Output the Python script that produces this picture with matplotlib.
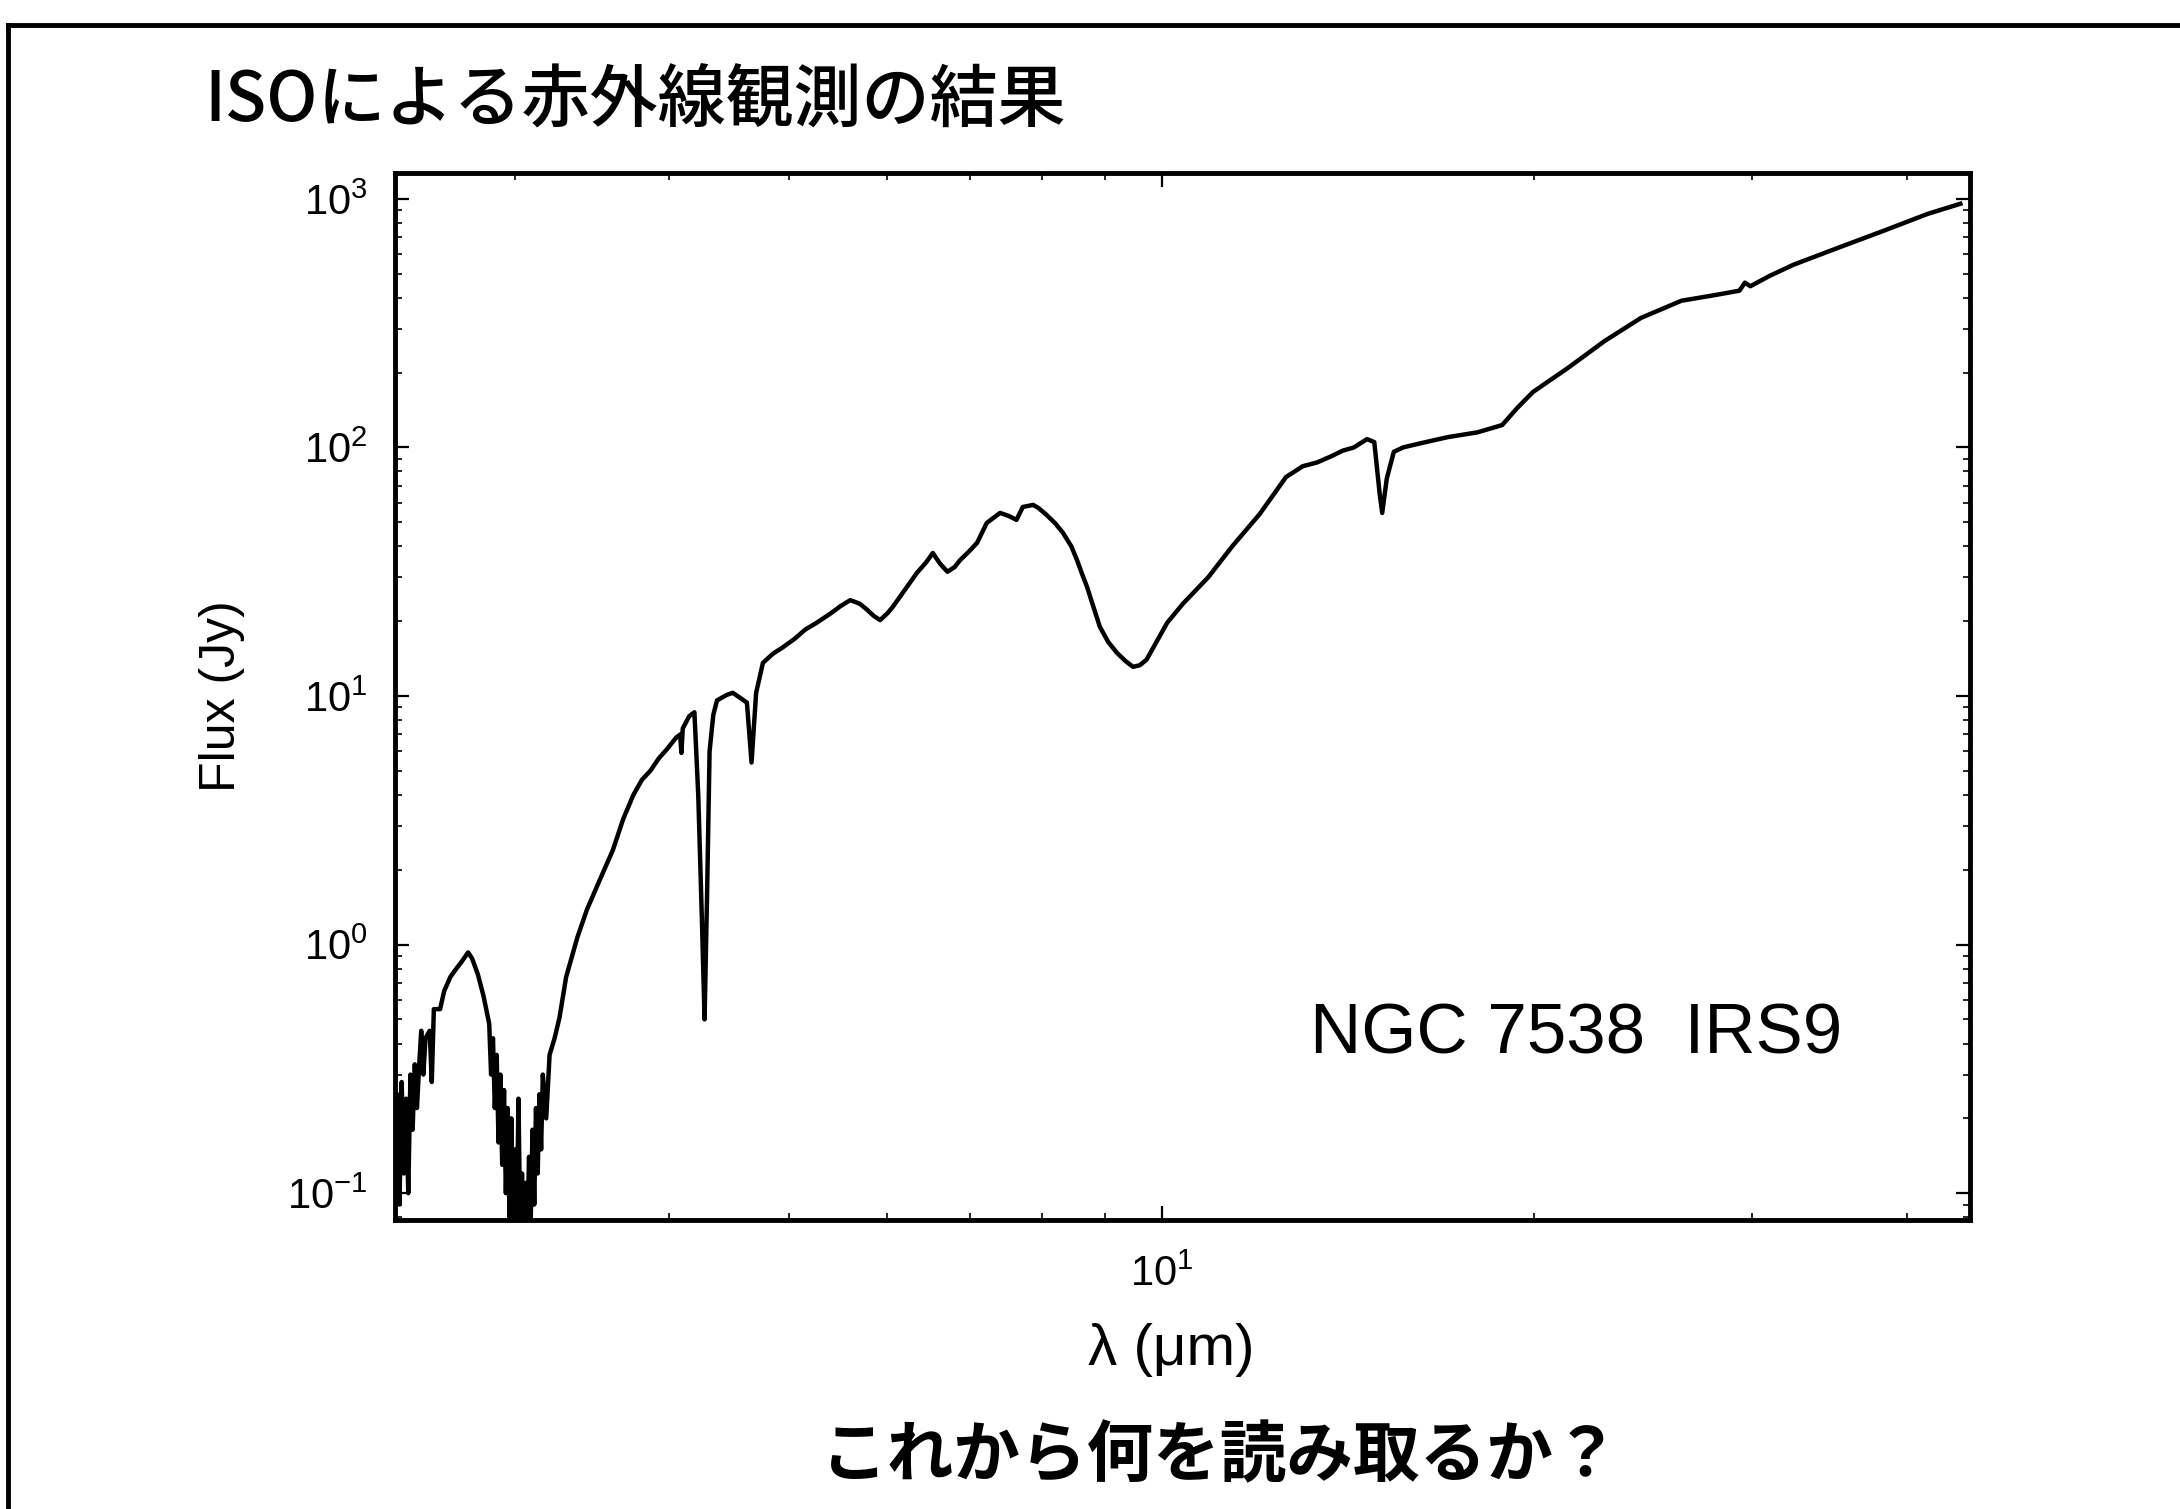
import matplotlib
matplotlib.use("Agg")
import matplotlib.pyplot as plt
from matplotlib.lines import Line2D
from matplotlib.ticker import LogLocator, LogFormatterSciNotation, NullFormatter

plt.rcParams['font.family'] = ['Liberation Sans', 'Noto Sans CJK JP']
plt.rcParams['mathtext.fontset'] = 'custom'
plt.rcParams['mathtext.rm'] = 'Liberation Sans'
plt.rcParams['mathtext.it'] = 'Liberation Sans:italic'
plt.rcParams['mathtext.bf'] = 'Liberation Sans:bold'
plt.rcParams['axes.unicode_minus'] = False

# ISO SWS spectrum of NGC 7538 IRS9: wavelength (um) and flux density (Jy)
wavelength = [
    2.40, 2.41, 2.42, 2.43, 2.44, 2.45, 2.46, 2.47, 2.48, 2.49,
    2.50, 2.51, 2.52, 2.53, 2.54, 2.56, 2.57, 2.58, 2.61, 2.63,
    2.66, 2.69, 2.72, 2.75, 2.77, 2.80, 2.83, 2.86, 2.87, 2.88,
    2.89, 2.90, 2.91, 2.92, 2.93, 2.94, 2.95, 2.96, 2.97, 2.98,
    2.99, 3.00, 3.01, 3.02, 3.03, 3.04, 3.05, 3.06, 3.07, 3.08,
    3.09, 3.10, 3.11, 3.12, 3.13, 3.14, 3.15, 3.16, 3.18, 3.20,
    3.23, 3.26, 3.30, 3.37, 3.43, 3.51, 3.60, 3.67, 3.74, 3.80,
    3.86, 3.92, 3.98, 4.05, 4.08, 4.09, 4.10, 4.15, 4.19, 4.22,
    4.25, 4.27, 4.29, 4.31, 4.34, 4.37, 4.45, 4.50, 4.58, 4.62,
    4.66, 4.70, 4.76, 4.85, 4.94, 5.05, 5.15, 5.26, 5.40, 5.50,
    5.60, 5.70, 5.78, 5.85, 5.92, 6.00, 6.06, 6.14, 6.24, 6.34,
    6.45, 6.53, 6.62, 6.71, 6.80, 6.87, 6.98, 7.09, 7.22, 7.40,
    7.52, 7.63, 7.72, 7.87, 7.95, 8.07, 8.20, 8.32, 8.45, 8.54,
    8.62, 8.70, 8.80, 8.91, 9.05, 9.20, 9.35, 9.48, 9.60, 9.72,
    9.90, 10.1, 10.4, 10.9, 11.4, 12.0, 12.6, 13.0, 13.35, 13.7,
    14.0, 14.3, 14.65, 14.85, 15.0, 15.07, 15.2, 15.4, 15.67, 16.2,
    17.03, 18.0, 18.84, 19.4, 19.95, 21.3, 22.8, 24.4, 26.3, 28.0,
    29.3, 29.6, 29.9, 31.0, 32.4, 35.2, 38.3, 41.6, 44.2,
]
flux = [
    0.15, 0.25, 0.09, 0.28, 0.12, 0.24, 0.10, 0.30, 0.18, 0.33,
    0.22, 0.32, 0.45, 0.30, 0.42, 0.45, 0.28, 0.55, 0.55, 0.65,
    0.74, 0.80, 0.86, 0.93, 0.88, 0.76, 0.62, 0.48, 0.30, 0.42,
    0.22, 0.36, 0.16, 0.30, 0.13, 0.26, 0.10, 0.22, 0.08, 0.20,
    0.075, 0.15, 0.07, 0.24, 0.07, 0.12, 0.065, 0.11, 0.07, 0.14,
    0.08, 0.18, 0.09, 0.22, 0.12, 0.25, 0.15, 0.30, 0.20, 0.36,
    0.42, 0.51, 0.74, 1.07, 1.38, 1.80, 2.40, 3.2, 4.0, 4.6,
    5.0, 5.6, 6.1, 6.8, 7.0, 5.9, 7.4, 8.3, 8.6, 4.0,
    1.2, 0.5, 1.6, 6.0, 8.4, 9.6, 10.1, 10.3, 9.7, 9.4,
    5.4, 10.3, 13.6, 14.8, 15.7, 17.0, 18.5, 19.7, 21.5, 23.0,
    24.3, 23.5, 22.2, 21.0, 20.2, 21.5, 22.8, 25.0, 28.0, 31.3,
    34.5, 37.6, 34.0, 31.6, 33.0, 35.2, 38.0, 41.3, 49.7, 54.5,
    53.0, 51.1, 57.6, 58.7, 57.0, 53.5, 49.5, 45.3, 40.0, 35.2,
    31.0, 27.5, 23.0, 19.0, 16.5, 14.9, 13.8, 13.1, 13.3, 14.0,
    16.5, 19.7, 23.5, 30.0, 40.0, 54.0, 76.0, 84.0, 87.0, 92.0,
    97.0, 100.0, 108.0, 105.0, 65.0, 54.5, 75.0, 96.0, 100.0, 104.0,
    110.0, 115.0, 123.0, 145.0, 167.0, 209.0, 268.0, 332.0, 389.0, 410.0,
    427.0, 460.0, 445.0, 490.0, 543.0, 635.0, 743.0, 870.0, 955.0,
]

x_limits = (2.40, 45.0)
y_limits = (0.078, 1270.0)

W, H = 2180, 1509
fig = plt.figure(figsize=(W / 100, H / 100), dpi=100)
fig.patch.set_facecolor('white')

ax = fig.add_axes([395 / W, 1 - 1220 / H, (1970 - 395) / W, (1220 - 173) / H])
ax.plot(wavelength, flux, color='black', lw=3.2, solid_joinstyle='round')
ax.set_xscale('log')
ax.set_yscale('log')
ax.set_xlim(*x_limits)
ax.set_ylim(*y_limits)

for side in ax.spines.values():
    side.set_linewidth(3.5)

ax.xaxis.set_major_locator(LogLocator(base=10))
ax.xaxis.set_minor_locator(LogLocator(base=10, subs=range(2, 10)))
ax.yaxis.set_major_locator(LogLocator(base=10))
ax.yaxis.set_minor_locator(LogLocator(base=10, subs=range(2, 10), numticks=20))
ax.xaxis.set_major_formatter(LogFormatterSciNotation())
ax.yaxis.set_major_formatter(LogFormatterSciNotation())
ax.xaxis.set_minor_formatter(NullFormatter())
ax.yaxis.set_minor_formatter(NullFormatter())
ax.tick_params(which='both', direction='in', top=True, right=True)
ax.tick_params(which='major', length=10, width=1.6, labelsize=30, pad=20)
ax.tick_params(axis='x', which='major', pad=25)
ax.tick_params(which='minor', length=5, width=1.2)

ax.set_xlabel('λ (μm)', fontsize=42)
ax.set_ylabel('Flux (Jy)', fontsize=36)
ax.xaxis.set_label_coords(0.493, -0.098)
ax.yaxis.set_label_coords(-0.095, 0.50)

ax.text(0.581, 0.176, 'NGC 7538  IRS9', transform=ax.transAxes,
        fontsize=51, ha='left', va='center')

fig.text(204 / W, 1 - 100 / H, 'ISOによる赤外線観測の結果',
         family=['Noto Sans CJK JP'], fontsize=49, weight='medium',
         ha='left', va='center')
fig.text(1221 / W, 1 - 1457 / H, 'これから何を読み取るか？',
         family=['Noto Sans CJK JP'], fontsize=48, weight='bold',
         ha='center', va='center')

# slide border
fig.add_artist(Line2D([8 / W, 1.0], [1 - 25 / H, 1 - 25 / H],
                      transform=fig.transFigure, color='black', lw=3.5))
fig.add_artist(Line2D([8 / W, 8 / W], [1 - 25 / H, 0.0],
                      transform=fig.transFigure, color='black', lw=3.5))

fig.savefig('out.png', dpi=100, facecolor='white')
